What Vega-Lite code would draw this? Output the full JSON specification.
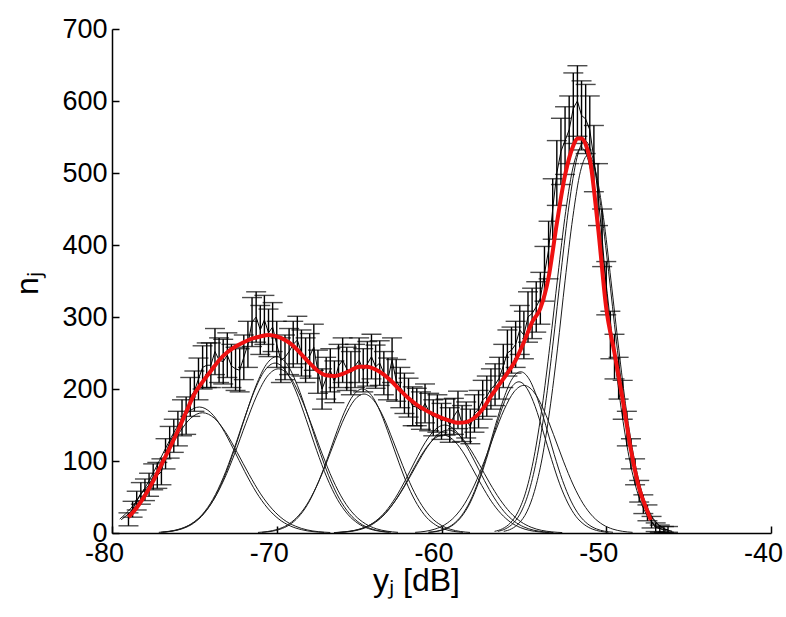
{
"$schema":"https://vega.github.io/schema/vega-lite/v6.json",
"autosize":{"type":"none"},
"width":659,"height":504,
"padding":{"left":112,"top":29,"right":15,"bottom":84},
"background":"white",
"config":{"view":{"stroke":null},"axis":{"grid":false,"labelFont":"Liberation Sans","titleFont":"Liberation Sans","labelFontSize":27,"titleFontSize":32,"labelColor":"black","titleColor":"black","titleFontWeight":"normal","domainColor":"black","domainWidth":1.5,"tickColor":"black","tickWidth":1.5,"tickSize":-7,"labelFlush":false}},
"datasets":{
"pts":[
{"x":-79.0,"y":19,"e":9},{"x":-78.75,"y":33,"e":11},{"x":-78.5,"y":45,"e":13},{"x":-78.25,"y":55,"e":15},{"x":-78.0,"y":60,"e":15},{"x":-77.75,"y":67,"e":16},{"x":-77.5,"y":78,"e":18},{"x":-77.25,"y":80,"e":18},{"x":-77.0,"y":85,"e":18},{"x":-76.75,"y":110,"e":21},{"x":-76.5,"y":126,"e":22},{"x":-76.25,"y":135,"e":23},{"x":-76.0,"y":145,"e":24},{"x":-75.75,"y":160,"e":25},{"x":-75.5,"y":163,"e":26},{"x":-75.25,"y":189,"e":27},{"x":-75.0,"y":197,"e":28},{"x":-74.75,"y":214,"e":29},{"x":-74.5,"y":230,"e":30},{"x":-74.25,"y":233,"e":31},{"x":-74.0,"y":233,"e":31},{"x":-73.75,"y":252,"e":32},{"x":-73.5,"y":240,"e":31},{"x":-73.25,"y":238,"e":31},{"x":-73.0,"y":247,"e":31},{"x":-72.75,"y":232,"e":30},{"x":-72.5,"y":228,"e":30},{"x":-72.25,"y":226,"e":30},{"x":-72.0,"y":244,"e":31},{"x":-71.75,"y":262,"e":32},{"x":-71.5,"y":293,"e":34},{"x":-71.25,"y":300,"e":35},{"x":-71.0,"y":282,"e":34},{"x":-70.75,"y":296,"e":34},{"x":-70.5,"y":278,"e":33},{"x":-70.25,"y":286,"e":34},{"x":-70.0,"y":262,"e":32},{"x":-69.75,"y":240,"e":31},{"x":-69.5,"y":244,"e":31},{"x":-69.25,"y":252,"e":32},{"x":-69.0,"y":262,"e":32},{"x":-68.75,"y":268,"e":33},{"x":-68.5,"y":250,"e":32},{"x":-68.25,"y":240,"e":31},{"x":-68.0,"y":246,"e":31},{"x":-67.75,"y":258,"e":32},{"x":-67.5,"y":224,"e":30},{"x":-67.25,"y":200,"e":28},{"x":-67.0,"y":215,"e":29},{"x":-66.75,"y":226,"e":30},{"x":-66.5,"y":210,"e":29},{"x":-66.25,"y":232,"e":30},{"x":-66.0,"y":240,"e":31},{"x":-65.75,"y":228,"e":30},{"x":-65.5,"y":222,"e":30},{"x":-65.25,"y":232,"e":30},{"x":-65.0,"y":240,"e":31},{"x":-64.75,"y":226,"e":30},{"x":-64.5,"y":235,"e":31},{"x":-64.25,"y":245,"e":31},{"x":-64.0,"y":231,"e":30},{"x":-63.75,"y":236,"e":31},{"x":-63.5,"y":222,"e":30},{"x":-63.25,"y":214,"e":29},{"x":-63.0,"y":240,"e":31},{"x":-62.75,"y":212,"e":29},{"x":-62.5,"y":202,"e":28},{"x":-62.25,"y":194,"e":28},{"x":-62.0,"y":188,"e":27},{"x":-61.75,"y":176,"e":27},{"x":-61.5,"y":175,"e":26},{"x":-61.25,"y":170,"e":26},{"x":-61.0,"y":180,"e":27},{"x":-60.75,"y":168,"e":26},{"x":-60.5,"y":160,"e":25},{"x":-60.25,"y":166,"e":26},{"x":-60.0,"y":155,"e":25},{"x":-59.75,"y":161,"e":25},{"x":-59.5,"y":150,"e":24},{"x":-59.25,"y":162,"e":25},{"x":-59.0,"y":171,"e":26},{"x":-58.75,"y":152,"e":25},{"x":-58.5,"y":157,"e":25},{"x":-58.25,"y":148,"e":24},{"x":-58.0,"y":166,"e":26},{"x":-57.75,"y":172,"e":26},{"x":-57.5,"y":185,"e":27},{"x":-57.25,"y":190,"e":28},{"x":-57.0,"y":200,"e":28},{"x":-56.75,"y":206,"e":29},{"x":-56.5,"y":215,"e":29},{"x":-56.25,"y":232,"e":30},{"x":-56.0,"y":250,"e":32},{"x":-55.75,"y":254,"e":32},{"x":-55.5,"y":262,"e":32},{"x":-55.25,"y":282,"e":34},{"x":-55.0,"y":275,"e":33},{"x":-54.75,"y":300,"e":35},{"x":-54.5,"y":305,"e":35},{"x":-54.25,"y":314,"e":35},{"x":-54.0,"y":326,"e":36},{"x":-53.75,"y":360,"e":38},{"x":-53.5,"y":393,"e":40},{"x":-53.25,"y":450,"e":42},{"x":-53.0,"y":500,"e":45},{"x":-52.75,"y":530,"e":46},{"x":-52.5,"y":545,"e":47},{"x":-52.25,"y":560,"e":47},{"x":-52.0,"y":590,"e":49},{"x":-51.75,"y":600,"e":49},{"x":-51.5,"y":580,"e":48},{"x":-51.25,"y":575,"e":48},{"x":-51.0,"y":560,"e":47},{"x":-50.75,"y":520,"e":46},{"x":-50.5,"y":470,"e":43},{"x":-50.25,"y":410,"e":40},{"x":-50.0,"y":340,"e":37},{"x":-49.75,"y":275,"e":33},{"x":-49.5,"y":245,"e":31},{"x":-49.25,"y":215,"e":29},{"x":-49.0,"y":185,"e":27},{"x":-48.75,"y":145,"e":24},{"x":-48.5,"y":110,"e":21},{"x":-48.25,"y":85,"e":18},{"x":-48.0,"y":58,"e":15},{"x":-47.75,"y":40,"e":13},{"x":-47.5,"y":28,"e":11},{"x":-47.25,"y":15,"e":8},{"x":-47.0,"y":8,"e":6},{"x":-46.75,"y":6,"e":5},{"x":-46.5,"y":5,"e":4},{"x":-46.25,"y":5,"e":4}
],
"fit":[
{"x":-79,"y":22},{"x":-78.5,"y":35},{"x":-78,"y":52},{"x":-77.5,"y":72},{"x":-77,"y":95},{"x":-76.5,"y":118},{"x":-76,"y":142},{"x":-75.5,"y":168},{"x":-75,"y":193},{"x":-74.5,"y":210},{"x":-74,"y":225},{"x":-73.5,"y":240},{"x":-73,"y":251},{"x":-72.5,"y":259},{"x":-72,"y":265},{"x":-71.5,"y":270},{"x":-71,"y":273},{"x":-70.5,"y":275},{"x":-70,"y":273},{"x":-69.5,"y":268},{"x":-69,"y":260},{"x":-68.5,"y":248},{"x":-68,"y":236},{"x":-67.5,"y":225},{"x":-67,"y":219},{"x":-66.5,"y":218},{"x":-66,"y":221},{"x":-65.5,"y":226},{"x":-65,"y":231},{"x":-64.5,"y":231},{"x":-64,"y":227},{"x":-63.5,"y":220},{"x":-63,"y":210},{"x":-62.5,"y":198},{"x":-62,"y":187},{"x":-61.5,"y":178},{"x":-61,"y":171},{"x":-60.5,"y":165},{"x":-60,"y":160},{"x":-59.5,"y":156},{"x":-59,"y":153},{"x":-58.5,"y":154},{"x":-58,"y":160},{"x":-57.5,"y":172},{"x":-57,"y":190},{"x":-56.5,"y":206},{"x":-56,"y":222},{"x":-55.5,"y":240},{"x":-55,"y":265},{"x":-54.5,"y":293},{"x":-54,"y":312},{"x":-53.5,"y":355},{"x":-53,"y":430},{"x":-52.5,"y":497},{"x":-52,"y":538},{"x":-51.75,"y":548},{"x":-51.5,"y":548},{"x":-51.25,"y":540},{"x":-51,"y":520},{"x":-50.5,"y":425},{"x":-50,"y":312},{"x":-49.5,"y":250},{"x":-49,"y":185},{"x":-48.5,"y":115},{"x":-48,"y":62},{"x":-47.5,"y":30},{"x":-47.3,"y":18}
],
"comp":[
{"c":"1a","x":-79.53,"y":19.3},{"c":"1a","x":-78.84,"y":34.7},{"c":"1a","x":-78.15,"y":56.9},{"c":"1a","x":-77.46,"y":85.2},{"c":"1a","x":-76.77,"y":116.7},{"c":"1a","x":-76.08,"y":146.1},{"c":"1a","x":-75.39,"y":167.3},{"c":"1a","x":-74.7,"y":175},{"c":"1a","x":-74.01,"y":167.3},{"c":"1a","x":-73.32,"y":146.1},{"c":"1a","x":-72.63,"y":116.7},{"c":"1a","x":-71.94,"y":85.2},{"c":"1a","x":-71.25,"y":56.9},{"c":"1a","x":-70.56,"y":34.7},{"c":"1a","x":-69.87,"y":19.3},{"c":"1a","x":-69.18,"y":9.8},{"c":"1a","x":-68.49,"y":4.6},{"c":"1a","x":-67.8,"y":1.9},{"c":"1a","x":-67.11,"y":0.8},
{"c":"1b","x":-79.44,"y":18.4},{"c":"1b","x":-78.73,"y":33.1},{"c":"1b","x":-78.03,"y":54.3},{"c":"1b","x":-77.32,"y":81.3},{"c":"1b","x":-76.62,"y":111.4},{"c":"1b","x":-75.91,"y":139.4},{"c":"1b","x":-75.21,"y":159.7},{"c":"1b","x":-74.5,"y":167},{"c":"1b","x":-73.8,"y":159.7},{"c":"1b","x":-73.09,"y":139.4},{"c":"1b","x":-72.39,"y":111.4},{"c":"1b","x":-71.68,"y":81.3},{"c":"1b","x":-70.98,"y":54.3},{"c":"1b","x":-70.27,"y":33.1},{"c":"1b","x":-69.57,"y":18.4},{"c":"1b","x":-68.86,"y":9.4},{"c":"1b","x":-68.16,"y":4.3},{"c":"1b","x":-67.45,"y":1.8},{"c":"1b","x":-66.75,"y":0.7},
{"c":"2a","x":-76.93,"y":1.1},{"c":"2a","x":-76.3,"y":2.7},{"c":"2a","x":-75.67,"y":6.4},{"c":"2a","x":-75.04,"y":13.7},{"c":"2a","x":-74.41,"y":27.0},{"c":"2a","x":-73.78,"y":48.5},{"c":"2a","x":-73.15,"y":79.6},{"c":"2a","x":-72.52,"y":119.3},{"c":"2a","x":-71.89,"y":163.4},{"c":"2a","x":-71.26,"y":204.6},{"c":"2a","x":-70.63,"y":234.2},{"c":"2a","x":-70.0,"y":245},{"c":"2a","x":-69.37,"y":234.2},{"c":"2a","x":-68.74,"y":204.6},{"c":"2a","x":-68.11,"y":163.4},{"c":"2a","x":-67.48,"y":119.3},{"c":"2a","x":-66.85,"y":79.6},{"c":"2a","x":-66.22,"y":48.5},{"c":"2a","x":-65.59,"y":27.0},{"c":"2a","x":-64.96,"y":13.7},{"c":"2a","x":-64.33,"y":6.4},{"c":"2a","x":-63.7,"y":2.7},{"c":"2a","x":-63.07,"y":1.1},
{"c":"2b","x":-77.03,"y":1.0},{"c":"2b","x":-76.4,"y":2.6},{"c":"2b","x":-75.77,"y":6.1},{"c":"2b","x":-75.14,"y":13.2},{"c":"2b","x":-74.51,"y":26.0},{"c":"2b","x":-73.88,"y":46.7},{"c":"2b","x":-73.25,"y":76.7},{"c":"2b","x":-72.62,"y":114.9},{"c":"2b","x":-71.99,"y":157.4},{"c":"2b","x":-71.36,"y":197.1},{"c":"2b","x":-70.73,"y":225.6},{"c":"2b","x":-70.1,"y":236},{"c":"2b","x":-69.47,"y":225.6},{"c":"2b","x":-68.84,"y":197.1},{"c":"2b","x":-68.21,"y":157.4},{"c":"2b","x":-67.58,"y":114.9},{"c":"2b","x":-66.95,"y":76.7},{"c":"2b","x":-66.32,"y":46.7},{"c":"2b","x":-65.69,"y":26.0},{"c":"2b","x":-65.06,"y":13.2},{"c":"2b","x":-64.43,"y":6.1},{"c":"2b","x":-63.8,"y":2.6},{"c":"2b","x":-63.17,"y":1.0},
{"c":"2c","x":-77.16,"y":0.9},{"c":"2c","x":-76.5,"y":2.5},{"c":"2c","x":-75.84,"y":5.9},{"c":"2c","x":-75.18,"y":12.8},{"c":"2c","x":-74.52,"y":25.1},{"c":"2c","x":-73.86,"y":45.1},{"c":"2c","x":-73.2,"y":74.1},{"c":"2c","x":-72.54,"y":111.0},{"c":"2c","x":-71.88,"y":152.1},{"c":"2c","x":-71.22,"y":190.4},{"c":"2c","x":-70.56,"y":218.0},{"c":"2c","x":-69.9,"y":228},{"c":"2c","x":-69.24,"y":218.0},{"c":"2c","x":-68.58,"y":190.4},{"c":"2c","x":-67.92,"y":152.1},{"c":"2c","x":-67.26,"y":111.0},{"c":"2c","x":-66.6,"y":74.1},{"c":"2c","x":-65.94,"y":45.1},{"c":"2c","x":-65.28,"y":25.1},{"c":"2c","x":-64.62,"y":12.8},{"c":"2c","x":-63.96,"y":5.9},{"c":"2c","x":-63.3,"y":2.5},{"c":"2c","x":-62.64,"y":0.9},
{"c":"3a","x":-70.9,"y":0.9},{"c":"3a","x":-70.35,"y":2.2},{"c":"3a","x":-69.8,"y":5.2},{"c":"3a","x":-69.24,"y":11.2},{"c":"3a","x":-68.69,"y":22},{"c":"3a","x":-68.13,"y":39.6},{"c":"3a","x":-67.58,"y":65},{"c":"3a","x":-67.02,"y":97.4},{"c":"3a","x":-66.47,"y":133.4},{"c":"3a","x":-65.91,"y":167},{"c":"3a","x":-65.36,"y":191.2},{"c":"3a","x":-64.8,"y":200},{"c":"3a","x":-64.25,"y":191.2},{"c":"3a","x":-63.69,"y":167},{"c":"3a","x":-63.14,"y":133.4},{"c":"3a","x":-62.58,"y":97.4},{"c":"3a","x":-62.03,"y":65},{"c":"3a","x":-61.47,"y":39.6},{"c":"3a","x":-60.92,"y":22},{"c":"3a","x":-60.36,"y":11.2},{"c":"3a","x":-59.81,"y":5.2},{"c":"3a","x":-59.25,"y":2.2},{"c":"3a","x":-58.7,"y":0.9},
{"c":"3b","x":-71.14,"y":0.8},{"c":"3b","x":-70.55,"y":2.1},{"c":"3b","x":-69.97,"y":5.0},{"c":"3b","x":-69.38,"y":10.8},{"c":"3b","x":-68.8,"y":21.2},{"c":"3b","x":-68.21,"y":38.2},{"c":"3b","x":-67.63,"y":62.7},{"c":"3b","x":-67.04,"y":94.0},{"c":"3b","x":-66.46,"y":128.7},{"c":"3b","x":-65.87,"y":161.2},{"c":"3b","x":-65.29,"y":184.5},{"c":"3b","x":-64.7,"y":193},{"c":"3b","x":-64.12,"y":184.5},{"c":"3b","x":-63.53,"y":161.2},{"c":"3b","x":-62.95,"y":128.7},{"c":"3b","x":-62.36,"y":94.0},{"c":"3b","x":-61.78,"y":62.7},{"c":"3b","x":-61.19,"y":38.2},{"c":"3b","x":-60.61,"y":21.2},{"c":"3b","x":-60.02,"y":10.8},{"c":"3b","x":-59.44,"y":5.0},{"c":"3b","x":-58.85,"y":2.1},{"c":"3b","x":-58.27,"y":0.8},
{"c":"4a","x":-66.4,"y":0.6},{"c":"4a","x":-65.8,"y":1.7},{"c":"4a","x":-65.2,"y":3.9},{"c":"4a","x":-64.6,"y":8.4},{"c":"4a","x":-64.0,"y":16.5},{"c":"4a","x":-63.4,"y":29.7},{"c":"4a","x":-62.8,"y":48.8},{"c":"4a","x":-62.2,"y":73.1},{"c":"4a","x":-61.6,"y":100.1},{"c":"4a","x":-61.0,"y":125.3},{"c":"4a","x":-60.4,"y":143.4},{"c":"4a","x":-59.8,"y":150},{"c":"4a","x":-59.2,"y":143.4},{"c":"4a","x":-58.6,"y":125.3},{"c":"4a","x":-58.0,"y":100.1},{"c":"4a","x":-57.4,"y":73.1},{"c":"4a","x":-56.8,"y":48.8},{"c":"4a","x":-56.2,"y":29.7},{"c":"4a","x":-55.6,"y":16.5},{"c":"4a","x":-55.0,"y":8.4},{"c":"4a","x":-54.4,"y":3.9},{"c":"4a","x":-53.8,"y":1.7},{"c":"4a","x":-53.2,"y":0.6},
{"c":"4b","x":-66.53,"y":0.6},{"c":"4b","x":-65.9,"y":1.6},{"c":"4b","x":-65.27,"y":3.7},{"c":"4b","x":-64.64,"y":8.0},{"c":"4b","x":-64.01,"y":15.7},{"c":"4b","x":-63.38,"y":28.3},{"c":"4b","x":-62.75,"y":46.5},{"c":"4b","x":-62.12,"y":69.6},{"c":"4b","x":-61.49,"y":95.4},{"c":"4b","x":-60.86,"y":119.4},{"c":"4b","x":-60.23,"y":136.7},{"c":"4b","x":-59.6,"y":143},{"c":"4b","x":-58.97,"y":136.7},{"c":"4b","x":-58.34,"y":119.4},{"c":"4b","x":-57.71,"y":95.4},{"c":"4b","x":-57.08,"y":69.6},{"c":"4b","x":-56.45,"y":46.5},{"c":"4b","x":-55.82,"y":28.3},{"c":"4b","x":-55.19,"y":15.7},{"c":"4b","x":-54.56,"y":8.0},{"c":"4b","x":-53.93,"y":3.7},{"c":"4b","x":-53.3,"y":1.6},{"c":"4b","x":-52.67,"y":0.6},
{"c":"4c","x":-66.34,"y":0.6},{"c":"4c","x":-65.75,"y":1.5},{"c":"4c","x":-65.17,"y":3.5},{"c":"4c","x":-64.58,"y":7.6},{"c":"4c","x":-64.0,"y":15.0},{"c":"4c","x":-63.41,"y":26.9},{"c":"4c","x":-62.83,"y":44.2},{"c":"4c","x":-62.24,"y":66.2},{"c":"4c","x":-61.66,"y":90.7},{"c":"4c","x":-61.07,"y":113.6},{"c":"4c","x":-60.49,"y":130.0},{"c":"4c","x":-59.9,"y":136},{"c":"4c","x":-59.32,"y":130.0},{"c":"4c","x":-58.73,"y":113.6},{"c":"4c","x":-58.15,"y":90.7},{"c":"4c","x":-57.56,"y":66.2},{"c":"4c","x":-56.98,"y":44.2},{"c":"4c","x":-56.39,"y":26.9},{"c":"4c","x":-55.81,"y":15.0},{"c":"4c","x":-55.22,"y":7.6},{"c":"4c","x":-54.64,"y":3.5},{"c":"4c","x":-54.05,"y":1.5},{"c":"4c","x":-53.47,"y":0.6},
{"c":"5a","x":-60.81,"y":1.0},{"c":"5a","x":-60.3,"y":2.5},{"c":"5a","x":-59.79,"y":5.8},{"c":"5a","x":-59.28,"y":12.5},{"c":"5a","x":-58.77,"y":24.6},{"c":"5a","x":-58.26,"y":44.4},{"c":"5a","x":-57.75,"y":72.8},{"c":"5a","x":-57.24,"y":109.1},{"c":"5a","x":-56.73,"y":149.4},{"c":"5a","x":-56.22,"y":187.0},{"c":"5a","x":-55.71,"y":214.1},{"c":"5a","x":-55.2,"y":224},{"c":"5a","x":-54.69,"y":214.1},{"c":"5a","x":-54.18,"y":187.0},{"c":"5a","x":-53.67,"y":149.4},{"c":"5a","x":-53.16,"y":109.1},{"c":"5a","x":-52.65,"y":72.8},{"c":"5a","x":-52.14,"y":44.4},{"c":"5a","x":-51.63,"y":24.6},{"c":"5a","x":-51.12,"y":12.5},{"c":"5a","x":-50.61,"y":5.8},{"c":"5a","x":-50.1,"y":2.5},{"c":"5a","x":-49.59,"y":1.0},
{"c":"5b","x":-60.75,"y":0.9},{"c":"5b","x":-60.25,"y":2.3},{"c":"5b","x":-59.76,"y":5.5},{"c":"5b","x":-59.26,"y":11.8},{"c":"5b","x":-58.77,"y":23.1},{"c":"5b","x":-58.27,"y":41.6},{"c":"5b","x":-57.78,"y":68.3},{"c":"5b","x":-57.28,"y":102.3},{"c":"5b","x":-56.79,"y":140.1},{"c":"5b","x":-56.29,"y":175.4},{"c":"5b","x":-55.8,"y":200.8},{"c":"5b","x":-55.3,"y":210},{"c":"5b","x":-54.81,"y":200.8},{"c":"5b","x":-54.31,"y":175.4},{"c":"5b","x":-53.82,"y":140.1},{"c":"5b","x":-53.32,"y":102.3},{"c":"5b","x":-52.83,"y":68.3},{"c":"5b","x":-52.33,"y":41.6},{"c":"5b","x":-51.84,"y":23.1},{"c":"5b","x":-51.34,"y":11.8},{"c":"5b","x":-50.85,"y":5.5},{"c":"5b","x":-50.35,"y":2.3},{"c":"5b","x":-49.86,"y":0.9},
{"c":"5c","x":-61.6,"y":0.9},{"c":"5c","x":-61.0,"y":2.3},{"c":"5c","x":-60.4,"y":5.4},{"c":"5c","x":-59.8,"y":11.5},{"c":"5c","x":-59.2,"y":22.6},{"c":"5c","x":-58.6,"y":40.6},{"c":"5c","x":-58.0,"y":66.6},{"c":"5c","x":-57.4,"y":99.8},{"c":"5c","x":-56.8,"y":136.7},{"c":"5c","x":-56.2,"y":171.2},{"c":"5c","x":-55.6,"y":196},{"c":"5c","x":-55.0,"y":205},{"c":"5c","x":-54.4,"y":196},{"c":"5c","x":-53.8,"y":171.2},{"c":"5c","x":-53.2,"y":136.7},{"c":"5c","x":-52.6,"y":99.8},{"c":"5c","x":-52.0,"y":66.6},{"c":"5c","x":-51.4,"y":40.6},{"c":"5c","x":-50.8,"y":22.6},{"c":"5c","x":-50.2,"y":11.5},{"c":"5c","x":-49.6,"y":5.4},{"c":"5c","x":-49.0,"y":2.3},{"c":"5c","x":-48.4,"y":0.9},
{"c":"6a","x":-56.58,"y":2.3},{"c":"6a","x":-56.1,"y":6.0},{"c":"6a","x":-55.62,"y":14.2},{"c":"6a","x":-55.14,"y":30.5},{"c":"6a","x":-54.66,"y":60.0},{"c":"6a","x":-54.18,"y":107.9},{"c":"6a","x":-53.7,"y":177.1},{"c":"6a","x":-53.22,"y":265.4},{"c":"6a","x":-52.74,"y":363.5},{"c":"6a","x":-52.26,"y":455.1},{"c":"6a","x":-51.78,"y":521.0},{"c":"6a","x":-51.3,"y":545},{"c":"6a","x":-50.82,"y":521.0},{"c":"6a","x":-50.34,"y":455.1},{"c":"6a","x":-49.86,"y":363.5},{"c":"6a","x":-49.38,"y":265.4},{"c":"6a","x":-48.9,"y":177.1},{"c":"6a","x":-48.42,"y":107.9},{"c":"6a","x":-47.94,"y":60.0},{"c":"6a","x":-47.46,"y":30.5},{"c":"6a","x":-46.98,"y":14.2},{"c":"6a","x":-46.5,"y":6.0},{"c":"6a","x":-46.02,"y":2.3},
{"c":"6b","x":-56.78,"y":2.3},{"c":"6b","x":-56.3,"y":5.9},{"c":"6b","x":-55.82,"y":14.0},{"c":"6b","x":-55.34,"y":30.0},{"c":"6b","x":-54.86,"y":58.9},{"c":"6b","x":-54.38,"y":105.9},{"c":"6b","x":-53.9,"y":173.9},{"c":"6b","x":-53.42,"y":260.5},{"c":"6b","x":-52.94,"y":356.8},{"c":"6b","x":-52.46,"y":446.7},{"c":"6b","x":-51.98,"y":511.5},{"c":"6b","x":-51.5,"y":535},{"c":"6b","x":-51.02,"y":511.5},{"c":"6b","x":-50.54,"y":446.7},{"c":"6b","x":-50.06,"y":356.8},{"c":"6b","x":-49.58,"y":260.5},{"c":"6b","x":-49.1,"y":173.9},{"c":"6b","x":-48.62,"y":105.9},{"c":"6b","x":-48.14,"y":58.9},{"c":"6b","x":-47.66,"y":30.0},{"c":"6b","x":-47.18,"y":14.0},{"c":"6b","x":-46.7,"y":5.9},{"c":"6b","x":-46.22,"y":2.3},
{"c":"6c","x":-56.22,"y":2.3},{"c":"6c","x":-55.75,"y":5.8},{"c":"6c","x":-55.29,"y":13.7},{"c":"6c","x":-54.82,"y":29.4},{"c":"6c","x":-54.36,"y":57.8},{"c":"6c","x":-53.89,"y":104.0},{"c":"6c","x":-53.43,"y":170.6},{"c":"6c","x":-52.96,"y":255.7},{"c":"6c","x":-52.5,"y":350.2},{"c":"6c","x":-52.03,"y":438.4},{"c":"6c","x":-51.57,"y":501.9},{"c":"6c","x":-51.1,"y":525},{"c":"6c","x":-50.64,"y":501.9},{"c":"6c","x":-50.17,"y":438.4},{"c":"6c","x":-49.71,"y":350.2},{"c":"6c","x":-49.24,"y":255.7},{"c":"6c","x":-48.78,"y":170.6},{"c":"6c","x":-48.31,"y":104.0},{"c":"6c","x":-47.85,"y":57.8},{"c":"6c","x":-47.38,"y":29.4},{"c":"6c","x":-46.92,"y":13.7},{"c":"6c","x":-46.45,"y":5.8},{"c":"6c","x":-45.99,"y":2.3}
]
},
"encoding":{
"x":{"field":"x","type":"quantitative","scale":{"domain":[-80,-40],"nice":false,"zero":false},"axis":{"values":[-80,-70,-60,-50,-40],"labelExpr":"toString(datum.value)","title":"yⱼ [dB]","labelPadding":14,"labelOffset":-8,"titleX":304,"titleY":57,"titleBaseline":"alphabetic","titleAnchor":"middle"}},
"y":{"field":"y","type":"quantitative","scale":{"domain":[0,700],"nice":false,"zero":false},"axis":{"values":[0,100,200,300,400,500,600,700],"labelExpr":"toString(datum.value)","title":"nⱼ","labelPadding":12,"titleX":-75,"titleY":254,"titleBaseline":"alphabetic","titleAngle":-90,"titleAnchor":"middle"}}
},
"layer":[
{"data":{"name":"comp"},"mark":{"type":"line","strokeWidth":1,"color":"#1a1a1a","interpolate":"monotone"},"encoding":{"detail":{"field":"c","type":"nominal"}}},
{"data":{"name":"pts"},"mark":{"type":"errorbar","color":"black","ticks":{"size":20,"thickness":1.4,"color":"black"},"rule":{"strokeWidth":1.4,"color":"black"}},"encoding":{"yError":{"field":"e"}}},
{"data":{"name":"pts"},"mark":{"type":"line","strokeWidth":1,"color":"black"}},
{"data":{"name":"fit"},"mark":{"type":"line","strokeWidth":4,"color":"#ee1111","interpolate":"monotone"}}
]
}
